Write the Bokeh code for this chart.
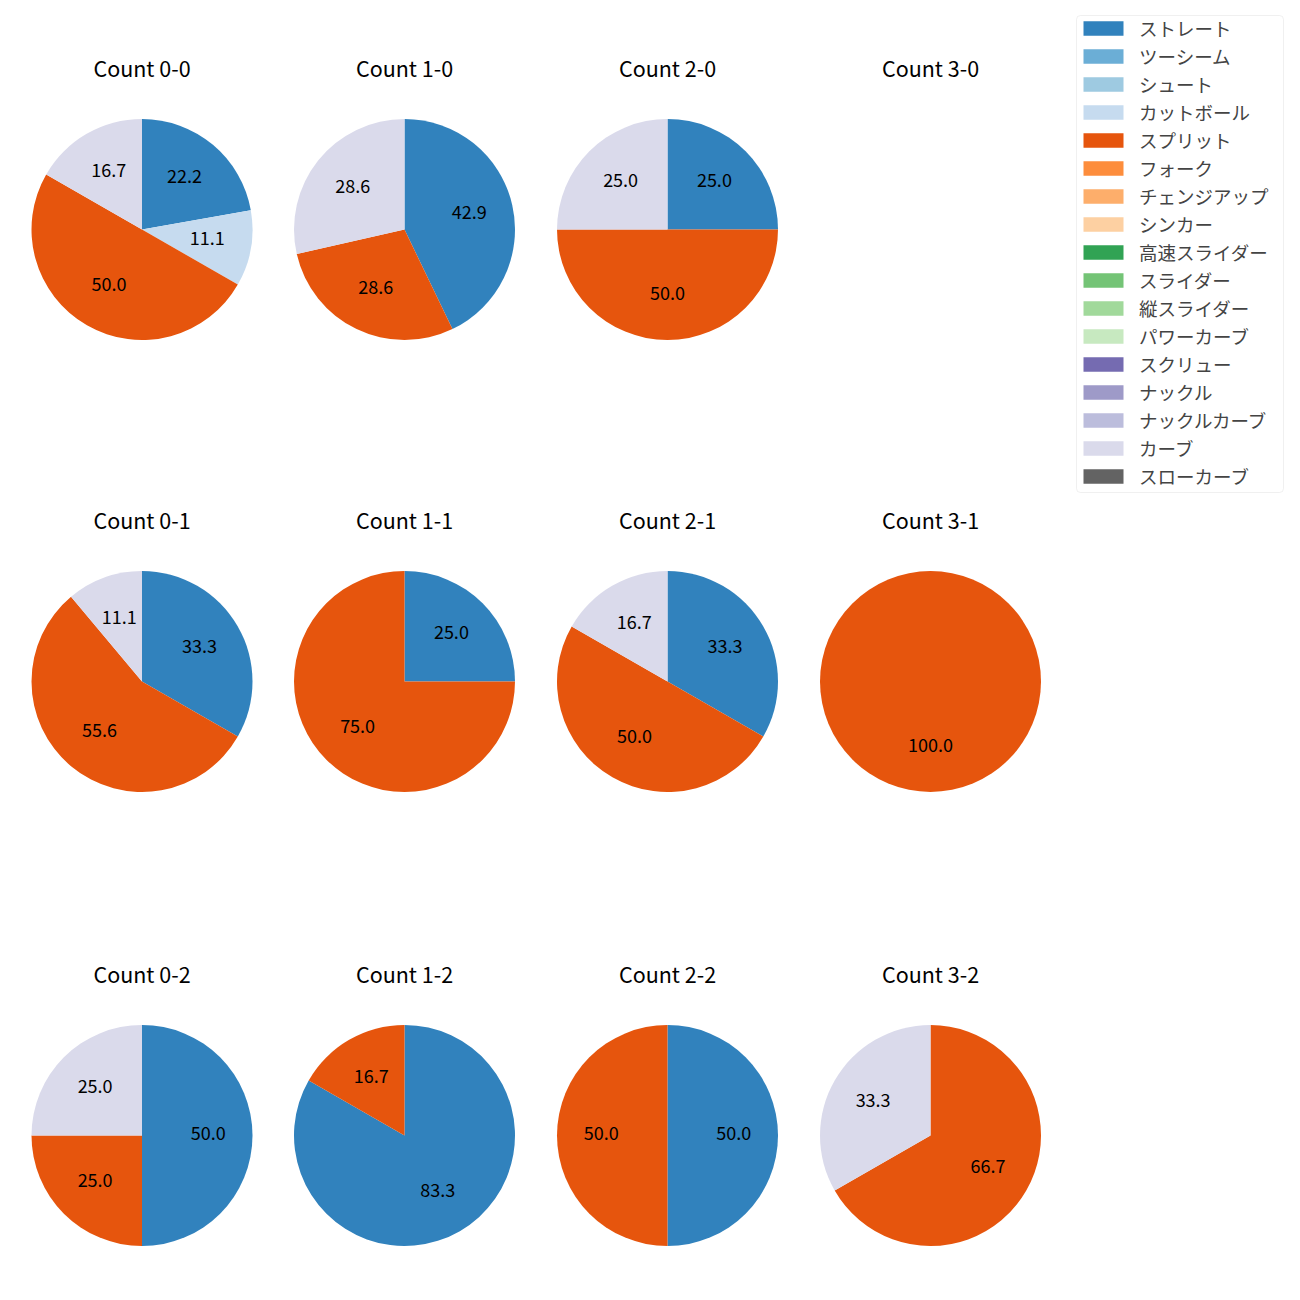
import math
from bokeh.plotting import figure
from bokeh.models import ColumnDataSource, Range1d, Legend, LegendItem, BoxAnnotation
from bokeh.core.properties import value
from bokeh.embed import file_html
from bokeh.resources import INLINE

FONT = "Noto Sans CJK JP"

pitch_types = ["ストレート", "ツーシーム", "シュート", "カットボール", "スプリット", "フォーク",
               "チェンジアップ", "シンカー", "高速スライダー", "スライダー", "縦スライダー",
               "パワーカーブ", "スクリュー", "ナックル", "ナックルカーブ", "カーブ", "スローカーブ"]
colors = ["#3182bd", "#6baed6", "#9ecae1", "#c6dbef", "#e6550d", "#fd8d3c", "#fdae6b", "#fdd0a2",
          "#31a354", "#74c476", "#a1d99b", "#c7e9c0", "#756bb1", "#9e9ac8", "#bcbddc", "#dadaeb",
          "#636363"]

count_labels = ["0-0", "1-0", "2-0", "3-0",
                "0-1", "1-1", "2-1", "3-1",
                "0-2", "1-2", "2-2", "3-2"]

# share (%) of each pitch type, one value per count (same order as count_labels)
straight = [22.2, 42.9, 25.0, 0, 33.3, 25.0, 33.3, 0, 50.0, 83.3, 50.0, 0]
cutter   = [11.1, 0, 0, 0, 0, 0, 0, 0, 0, 0, 0, 0]
split    = [50.0, 28.6, 50.0, 0, 55.6, 75.0, 50.0, 100.0, 25.0, 16.7, 50.0, 66.7]
curve    = [16.7, 28.6, 25.0, 0, 11.1, 0, 16.7, 0, 25.0, 0, 0, 33.3]
zeros    = [0] * 12

shares_by_type = {t: zeros for t in pitch_types}
shares_by_type["ストレート"] = straight
shares_by_type["カットボール"] = cutter
shares_by_type["スプリット"] = split
shares_by_type["カーブ"] = curve

# layout (page pixels, y downward)
col_x = [141.5, 404, 667, 930]
row_y = [229, 681, 1135]
R = 110.5
PAGE = 1300

def Y(y):
    return PAGE - y

p = figure(width=1284, height=1284, output_backend="svg", toolbar_location=None,
           x_range=Range1d(0, 1284), y_range=Range1d(16, 1300), min_border=0)
p.axis.visible = False
p.grid.visible = False
p.outline_line_color = None
p.background_fill_color = "white"
p.border_fill_color = "white"

wedge_data = {t: dict(x=[], y=[], s=[], e=[], r=[]) for t in pitch_types}
full_data = {t: dict(x=[], y=[]) for t in pitch_types}
lab = dict(x=[], y=[], t=[])
tit = dict(x=[], y=[], t=[])

for k, cl in enumerate(count_labels):
    cx = col_x[k % 4]
    cy = row_y[k // 4]
    tit["x"].append(cx)
    tit["y"].append(Y(cy - 162))
    tit["t"].append("Count " + cl)
    total = sum(shares_by_type[t][k] for t in pitch_types)
    if total <= 0:
        continue
    cum = 0.0
    for t in pitch_types:
        v = shares_by_type[t][k]
        if v <= 0:
            continue
        frac0 = cum / total
        frac1 = (cum + v) / total
        cum += v
        a0 = math.pi / 2 - 2 * math.pi * frac0
        a1 = math.pi / 2 - 2 * math.pi * frac1
        if frac1 - frac0 >= 1 - 1e-9:
            full_data[t]["x"].append(cx)
            full_data[t]["y"].append(Y(cy))
        else:
            wedge_data[t]["x"].append(cx)
            wedge_data[t]["y"].append(Y(cy))
            wedge_data[t]["s"].append(a0)
            wedge_data[t]["e"].append(a1)
            wedge_data[t]["r"].append(R)
        mid = (a0 + a1) / 2
        lab["x"].append(cx + 0.6 * R * math.cos(mid))
        lab["y"].append(Y(cy) + 0.6 * R * math.sin(mid) + 2.5)
        lab["t"].append("%.1f" % v)

items = []
for t, c in zip(pitch_types, colors):
    wd = wedge_data[t]
    if not wd["x"]:
        # zero-size placeholder so that the legend still shows the swatch
        wd = dict(x=[-100], y=[-100], s=[0.0], e=[0.0], r=[0.0])
    r = p.wedge(x="x", y="y", radius="r", start_angle="s", end_angle="e", direction="clock",
                source=ColumnDataSource(wd), fill_color=c, line_color=None)
    if full_data[t]["x"]:
        p.circle(x="x", y="y", radius=R, source=ColumnDataSource(full_data[t]),
                 fill_color=c, line_color=None)
    items.append(LegendItem(label=t, renderers=[r]))

p.text(x="x", y="y", text="t", source=ColumnDataSource(lab), text_align="center",
       text_baseline="middle", text_font=value(FONT), text_font_size="18px", text_color="black")
p.text(x="x", y="y", text="t", source=ColumnDataSource(tit), text_align="center",
       text_baseline="middle", text_font=value(FONT), text_font_size="21.5px", text_color="black")

# legend frame
frame = BoxAnnotation(left=1076, right=1283, top=Y(15), bottom=Y(492),
                      fill_color="white", fill_alpha=1.0, line_color="#cccccc",
                      line_width=1, border_radius=4)
p.add_layout(frame)

legend = Legend(items=items, location=(1078, 795), glyph_width=50, glyph_height=18,
                label_text_font=FONT, label_text_font_size="18.5px", label_standoff=11,
                label_height=20, padding=1, spacing=2, margin=0, border_line_color=None,
                background_fill_alpha=0.0)
p.add_layout(legend, "center")

open("out.html", "w").write(file_html(p, INLINE))
